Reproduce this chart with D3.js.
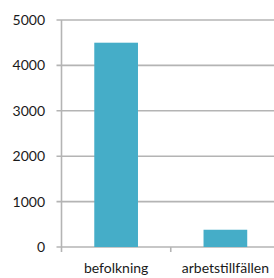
<!DOCTYPE html>
<html>
<head>
<meta charset="utf-8">
<script src="https://cdn.jsdelivr.net/npm/d3@7"></script>
<style>
  body { margin: 0; background: #fff; }
  text { font-family: Lato, "Open Sans", sans-serif; font-size: 14px; fill: #1a1a1a; }
</style>
</head>
<body>
<script>
// data
var categories = ["befolkning", "arbetstillfällen"];
var values = [4500, 380];
var yTicks = [0, 1000, 2000, 3000, 4000, 5000];

var w = 274, h = 278;
var mLeft = 61.5, mRight = 280, mTop = 20, mBottom = 247;

var svg = d3.select("body").append("svg")
    .attr("width", w)
    .attr("height", h);

var x = d3.scaleBand()
    .domain(categories)
    .range([mLeft, mRight])
    .paddingInner(0.6)
    .paddingOuter(0.3);

var y = d3.scaleLinear()
    .domain([0, 5000])
    .range([mBottom, mTop]);

// gridlines
svg.selectAll("line.grid")
    .data(yTicks)
    .enter()
    .append("line")
    .attr("class", "grid")
    .attr("x1", mLeft - 5)
    .attr("x2", w)
    .attr("y1", function (d) { return y(d); })
    .attr("y2", function (d) { return y(d); })
    .style("stroke", "#b4b4b4")
    .style("stroke-width", 1.6);

// y labels
svg.selectAll("text.ylab")
    .data(yTicks)
    .enter()
    .append("text")
    .attr("class", "ylab")
    .attr("x", 45)
    .attr("y", function (d) { return y(d); })
    .attr("dy", "0.35em")
    .attr("text-anchor", "end")
    .text(function (d) { return d; });

// bars
svg.selectAll("rect")
    .data(values)
    .enter()
    .append("rect")
    .attr("x", function (d, i) { return x(categories[i]); })
    .attr("y", function (d) { return y(d); })
    .attr("width", x.bandwidth())
    .attr("height", function (d) { return y(0) - y(d); })
    .style("fill", "#45adc8");

// y axis line
svg.append("line")
    .attr("x1", mLeft).attr("x2", mLeft)
    .attr("y1", mTop).attr("y2", mBottom + 5)
    .style("stroke", "#b4b4b4")
    .style("stroke-width", 1.6);

// category separator tick
var step = x.step();
svg.append("line")
    .attr("x1", x(categories[0]) + x.bandwidth() / 2 + step / 2)
    .attr("x2", x(categories[0]) + x.bandwidth() / 2 + step / 2)
    .attr("y1", mBottom)
    .attr("y2", mBottom + 5)
    .style("stroke", "#b4b4b4")
    .style("stroke-width", 1.6);

// x labels
svg.selectAll("text.xlab")
    .data(categories)
    .enter()
    .append("text")
    .attr("class", "xlab")
    .attr("x", function (d) { return x(d) + x.bandwidth() / 2; })
    .attr("y", 273)
    .attr("text-anchor", "middle")
    .text(function (d) { return d; });
</script>
</body>
</html>
